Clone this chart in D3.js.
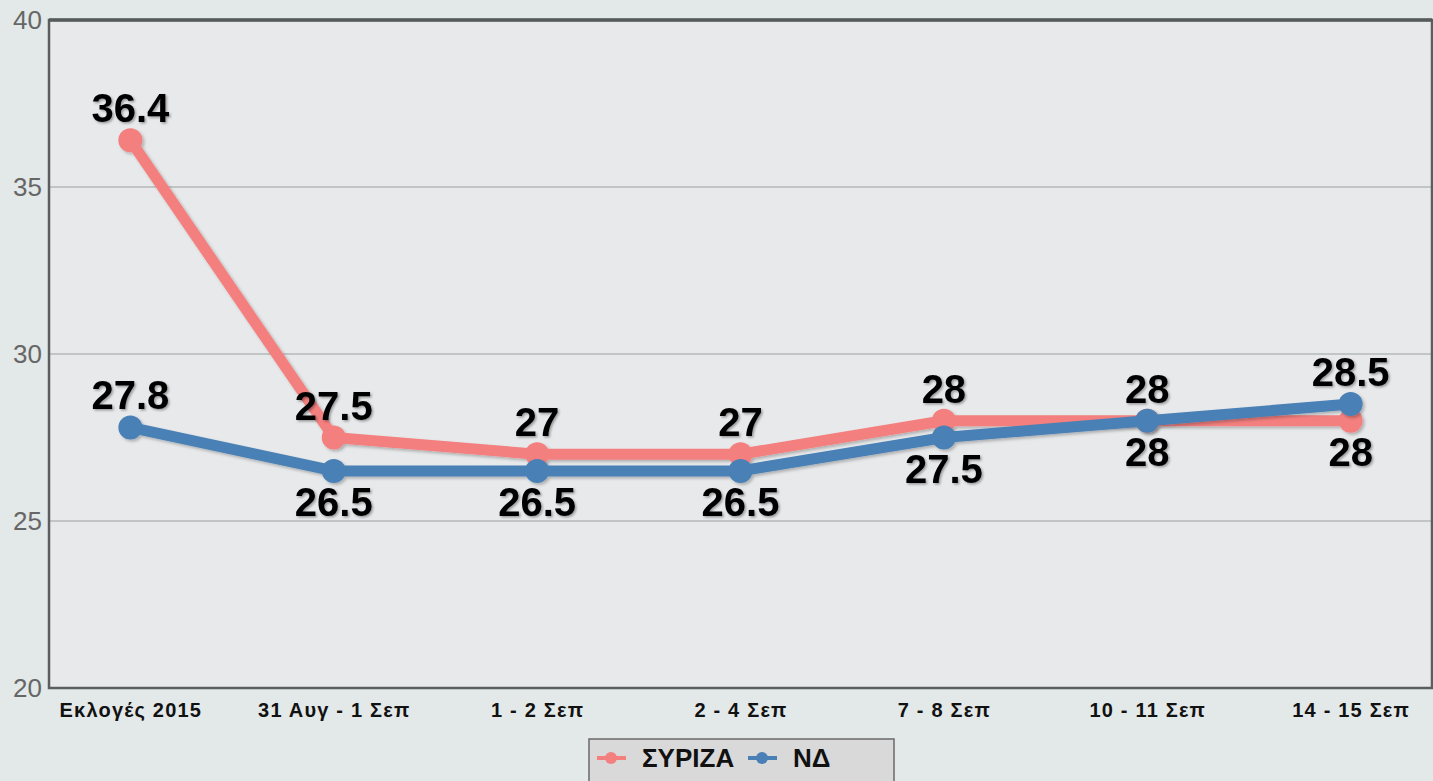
<!DOCTYPE html>
<html><head><meta charset="utf-8">
<script src="https://cdn.jsdelivr.net/npm/d3@7"></script>
<style>
html,body{margin:0;padding:0;background:#e3e8e8;overflow:hidden}
svg{display:block;font-family:Arial,"Liberation Sans",sans-serif}
</style></head><body>
<svg id="c" width="1433" height="781"></svg>
<script>
const categories = ["Εκλογές 2015","31 Αυγ - 1 Σεπ","1 - 2 Σεπ","2 - 4 Σεπ","7 - 8 Σεπ","10 - 11 Σεπ","14 - 15 Σεπ"];
const syriza = [36.4, 27.5, 27, 27, 28, 28, 28];
const nd = [27.8, 26.5, 26.5, 26.5, 27.5, 28, 28.5];
const syrizaLabelPos = ["above","above","above","above","above","above","below"];
const ndLabelPos = ["above","below","below","below","below","below","above"];
const yTicks = [20, 25, 30, 35, 40];
const seriesNames = ["ΣΥΡΙΖΑ","ΝΔ"];
const colors = ["#f47f7f","#4a80b5"];

const svg = d3.select("#c");
const L = 49, R = 1432, T = 20, B = 688;
const x = d3.scalePoint().domain(categories).range([L, R]).padding(0.4);
const y = d3.scaleLinear().domain([20, 40]).range([B, T]);

const defs = svg.append("defs");
const f = defs.append("filter").attr("id","sh").attr("x","-20%").attr("y","-20%").attr("width","140%").attr("height","140%");
f.append("feDropShadow").attr("dx",2).attr("dy",2).attr("stdDeviation",1.5).attr("flood-color","#000").attr("flood-opacity",0.25);
const ft = defs.append("filter").attr("id","tsh").attr("x","-20%").attr("y","-20%").attr("width","140%").attr("height","140%");
ft.append("feDropShadow").attr("dx",1.5).attr("dy",1.5).attr("stdDeviation",1.2).attr("flood-color","#000").attr("flood-opacity",0.35);

// plot background
svg.append("rect").attr("x",L).attr("y",T).attr("width",R-L).attr("height",B-T).attr("fill","#e8e9eb");

// grid
svg.append("g").selectAll("line").data(yTicks.filter(t=>t>20 && t<40)).join("line")
  .attr("x1",L).attr("x2",R).attr("y1",d=>y(d)).attr("y2",d=>y(d))
  .attr("stroke","#b4b8b8").attr("stroke-width",1.5);

// border
svg.append("rect").attr("x",L).attr("y",T).attr("width",R-L).attr("height",B-T)
  .attr("fill","none").attr("stroke","#5a5e5e").attr("stroke-width",2.5);
svg.append("line").attr("x1",L).attr("x2",R).attr("y1",T).attr("y2",T).attr("stroke","#555a5a").attr("stroke-width",3.5);

// y axis
const yAxis = d3.axisLeft(y).tickValues(yTicks).tickSize(0).tickPadding(7);
const gy = svg.append("g").attr("transform",`translate(${L},0)`).call(yAxis);
gy.select(".domain").remove();
gy.selectAll("text").attr("font-size",26).attr("fill","#666").attr("font-family","Arial,'Liberation Sans',sans-serif").attr("dy","0.32em");

// x axis
const xAxis = d3.axisBottom(x).tickSize(0).tickPadding(15);
const gx = svg.append("g").attr("transform",`translate(0,${B})`).call(xAxis);
gx.select(".domain").remove();
gx.selectAll("text").attr("font-size",20).attr("letter-spacing","1.2px").attr("font-weight","bold").attr("fill","#111").attr("font-family","Arial,'Liberation Sans',sans-serif");

const series = [syriza, nd];
const labelPos = [syrizaLabelPos, ndLabelPos];
const line = d3.line().x((d,i)=>x(categories[i])).y(d=>y(d));

series.forEach((s,k)=>{
  const g = svg.append("g").attr("filter","url(#sh)");
  g.append("path").datum(s).attr("d",line).attr("fill","none").attr("stroke",colors[k]).attr("stroke-width",11).attr("stroke-linejoin","round");
  g.selectAll("circle").data(s).join("circle").attr("cx",(d,i)=>x(categories[i])).attr("cy",d=>y(d)).attr("r",12).attr("fill",colors[k]);
});

series.forEach((s,k)=>{
  svg.append("g").attr("filter","url(#tsh)").selectAll("text").data(s).join("text")
    .attr("x",(d,i)=>x(categories[i]))
    .attr("y",(d,i)=>labelPos[k][i]==="above" ? y(d)-18 : y(d)+45)
    .attr("text-anchor","middle").attr("font-size",40).attr("font-weight","bold").attr("fill","#000")
    .text(d=>d);
});

// legend
const lg = svg.append("g");
lg.append("rect").attr("x",589).attr("y",739).attr("width",305).attr("height",60).attr("fill","#d9d9d9").attr("stroke","#6a6a6a").attr("stroke-width",1.5);
const items = [{x:597, tx:642}, {x:748, tx:793}];
items.forEach((it,k)=>{
  lg.append("line").attr("x1",it.x).attr("x2",it.x+29).attr("y1",758).attr("y2",758).attr("stroke",colors[k]).attr("stroke-width",4);
  lg.append("circle").attr("cx",it.x+14).attr("cy",758).attr("r",6).attr("fill",colors[k]);
  lg.append("text").attr("x",it.tx).attr("y",767).attr("font-size",26).attr("font-weight","bold").attr("fill","#111").text(seriesNames[k]);
});
</script>
</body></html>
